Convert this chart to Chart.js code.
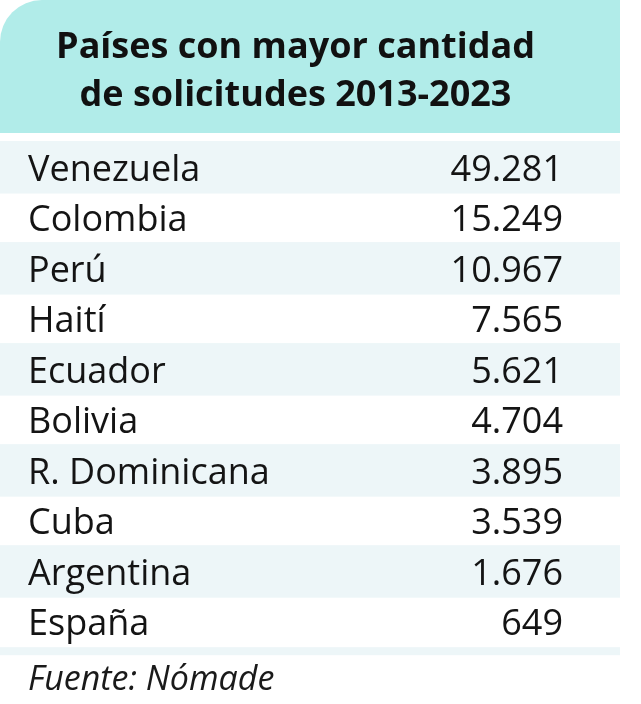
<!DOCTYPE html>
<html lang="es">
<head>
<meta charset="utf-8">
<script src="https://cdn.jsdelivr.net/npm/chart.js@4"></script>
<style>
  html, body { margin: 0; padding: 0; background: #fff; }
  #wrap { width: 641px; height: 704px; position: relative; }
</style>
</head>
<body>
<div id="wrap"><canvas id="tabla"></canvas></div>
<script>
    // datos
    const paises = ['Venezuela', 'Colombia', 'Perú', 'Haití', 'Ecuador', 'Bolivia',
                    'R. Dominicana', 'Cuba', 'Argentina', 'España'];
    const solicitudes = [49281, 15249, 10967, 7565, 5621, 4704, 3895, 3539, 1676, 649];
    const titulo = ['Países con mayor cantidad', 'de solicitudes 2013-2023'];
    const fuente = 'Fuente: Nómade';

    const fmtMiles = n => String(n).replace(/\B(?=(\d{3})+(?!\d))/g, '.');

    const HEADER_BG = '#b1ece9';
    const ROW_BG = '#edf6f8';
    const TABLE_RIGHT = 620;

    // fondo: cabecera y filas alternas, colocadas con la escala y
    const fondoTabla = {
        id: 'fondoTabla',
        beforeDraw(chart) {
            const { ctx, chartArea } = chart;
            const y = chart.scales.y;
            ctx.save();
            ctx.fillStyle = '#fff';
            ctx.fillRect(0, 0, chart.width, chart.height);

            // cabecera con esquina redondeada
            ctx.fillStyle = HEADER_BG;
            ctx.beginPath();
            ctx.roundRect(0, 0, TABLE_RIGHT, 133, [42, 0, 0, 0]);
            ctx.fill();

            const rowH = y.getPixelForValue(1) - y.getPixelForValue(0);
            ctx.fillStyle = ROW_BG;
            paises.forEach((p, i) => {
                if (i % 2 !== 0) return;
                const cy = y.getPixelForValue(i);
                ctx.fillRect(0, cy - rowH / 2 - 1, TABLE_RIGHT, rowH + 2);
            });
            ctx.fillRect(0, chartArea.bottom, TABLE_RIGHT, 8);
            ctx.restore();
        }
    };

    const ctx = document.getElementById('tabla').getContext('2d');
    new Chart(ctx, {
        type: 'bar',
        data: {
            labels: paises,
            datasets: [{
                label: 'Solicitudes',
                data: solicitudes,
                backgroundColor: 'rgba(0,0,0,0)',
                borderWidth: 0
            }]
        },
        options: {
            indexAxis: 'y',
            responsive: true,
            maintainAspectRatio: false,
            animation: false,
            layout: { padding: { left: 28, right: 78, top: 0, bottom: 0 } },
            plugins: {
                legend: { display: false },
                tooltip: { enabled: false },
                title: {
                    display: true,
                    text: titulo,
                    color: '#111',
                    font: { family: 'Open Sans', size: 36, weight: 'bold', lineHeight: 1.32 },
                    padding: { top: 24, bottom: 23 }
                },
                subtitle: {
                    display: true,
                    position: 'bottom',
                    align: 'start',
                    text: fuente,
                    color: '#1a1a1a',
                    font: { family: 'Open Sans', size: 34, style: 'italic', lineHeight: 1.2 },
                    padding: { top: 13, bottom: 3 }
                }
            },
            scales: {
                x: { display: false, min: 0 },
                y: {
                    position: 'left',
                    offset: true,
                    afterFit: s => { s.width = 270; },
                    grid: { display: false, drawTicks: false },
                    border: { display: false },
                    ticks: {
                        crossAlign: 'far',
                        padding: 0,
                        labelOffset: 3,
                        color: '#141414',
                        font: { family: 'Open Sans', size: 36 }
                    }
                },
                y2: {
                    type: 'category',
                    position: 'right',
                    labels: solicitudes.map(fmtMiles),
                    offset: true,
                    afterFit: s => { s.width = 130; },
                    grid: { display: false, drawTicks: false },
                    border: { display: false },
                    ticks: {
                        crossAlign: 'far',
                        padding: 0,
                        labelOffset: 3,
                        color: '#141414',
                        font: { family: 'Open Sans', size: 36 }
                    }
                }
            }
        },
        plugins: [fondoTabla]
    });
</script>
</body>
</html>
